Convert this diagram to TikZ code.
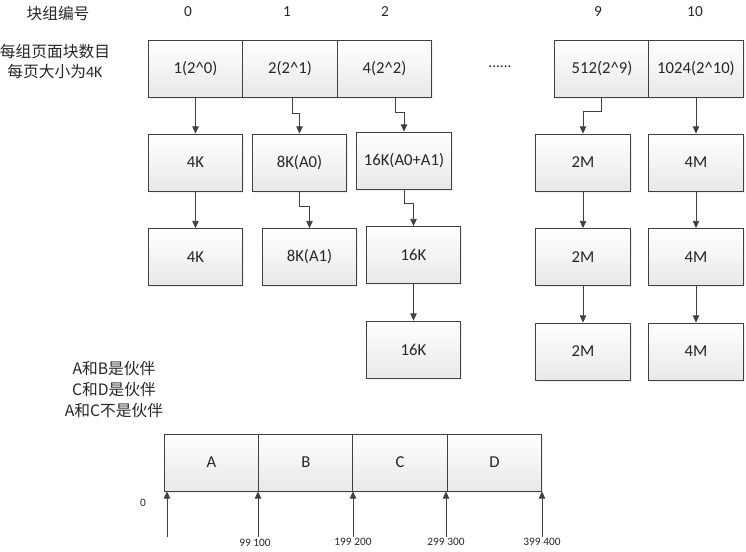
\documentclass[tikz,border=0pt]{standalone}
\usepackage{fontspec}
\setmainfont{Carlito}
\newfontfamily\cjkfont{Noto Sans CJK SC}
\newcommand\zh[1]{{\cjkfont #1}}
\usetikzlibrary{arrows.meta,calc,shadows}
\definecolor{linec}{RGB}{64,64,64}
\definecolor{boxbot}{RGB}{232,232,232}
\begin{document}
\begin{tikzpicture}[x=0.75pt,y=-0.75pt,
  box/.style={draw=linec, line width=0.6pt, top color=white, bottom color=boxbot,
    minimum width=70.9pt, minimum height=42.75pt, inner sep=0pt, font=\fontsize{12.5}{14}\selectfont,
    text=black!85,
    drop shadow={opacity=0.12, shadow xshift=1.2pt, shadow yshift=-1.2pt}},
  bbox/.style={box, minimum width=70.9pt},
  arr/.style={draw=linec, line width=0.6pt, -{Triangle[width=4.8pt,length=5.4pt]}},
  hdr/.style={font=\fontsize{11.5}{13}\selectfont, text=black!85},
  zht/.style={font=\fontsize{11.8}{14}\selectfont\cjkfont, text=black!85},
  small/.style={font=\fontsize{8.5}{9}\selectfont, inner sep=0pt, text=black!85}]
\useasboundingbox (0,0) rectangle (746,551);
% headers
\node[zht] (h0) at (58,13) {块组编号};
\node[hdr] (n0) at (188,12) {0};
\node[hdr] (n1) at (287,12) {1};
\node[hdr] (n2) at (385,12) {2};
\node[hdr] (n9) at (598,12) {9};
\node[hdr] (n10) at (695,12) {10};
\node[zht, align=center, inner sep=0pt] (lbl) at (55,61) {每组页面块数目\\[1pt]每页大小为\hbox{\fontsize{12}{13}\selectfont\rmfamily 4K}};
\node[hdr] (dots) at (500,67) {......};
% top row
\node[box] (t0) at (195.5,68.5) {1(2\^{}0)};
\node[box] (t1) at (290,68.5) {2(2\^{}1)};
\node[box] (t2) at (384.5,68.5) {4(2\^{}2)};
\node[box] (t9) at (602,68.5) {512(2\^{}9)};
\node[box] (t10) at (696,68.5) {1024(2\^{}10)};
% row 2
\node[box] (a0) at (195.5,162.5) {4K};
\node[box] (a1) at (299.5,162.5) {8K(A0)};
\node[box] (a2) at (404,160.5) {16K(A0+A1)};
\node[box] (a9) at (583,162.5) {2M};
\node[box] (a10) at (696,162.5) {4M};
% row 3
\node[box] (b0) at (195.5,257) {4K};
\node[box] (b1) at (309.5,257) {8K(A1)};
\node[box] (b2) at (413.5,255) {16K};
\node[box] (b9) at (583,257) {2M};
\node[box] (b10) at (696,257) {4M};
% row 4
\node[box] (c2) at (413.5,349.5) {16K};
\node[box] (c9) at (583,351.5) {2M};
\node[box] (c10) at (696,351.5) {4M};
% connectors top -> row2
\draw[arr] (t0.south) -- (a0.north);
\draw[arr] ($(t1.south)+(2,0)$) -- ++(0,16) -| (a1.north);
\draw[arr] ($(t2.south)+(10.5,0)$) -- ++(0,15) -| (a2.north);
\draw[arr] ($(t9.south)+(-1,0)$) -- ++(0,14) -| (a9.north);
\draw[arr] (t10.south) -- (a10.north);
% row2 -> row3
\draw[arr] (a0.south) -- (b0.north);
\draw[arr] (a1.south) -- ++(0,15) -| (b1.north);
\draw[arr] (a2.south) -- ++(0,14) -| (b2.north);
\draw[arr] (a9.south) -- (b9.north);
\draw[arr] (a10.south) -- (b10.north);
% row3 -> row4
\draw[arr] (b2.south) -- (c2.north);
\draw[arr] (b9.south) -- (c9.north);
\draw[arr] (b10.south) -- (c10.north);
% buddy text
\node[zht, inner sep=0pt] (p1) at (114,369) {A和B是伙伴};
\node[zht, inner sep=0pt] (p2) at (114,390) {C和D是伙伴};
\node[zht, inner sep=0pt] (p3) at (114,411) {A和C不是伙伴};
% bottom boxes
\node[bbox] (bA) at (211.5,462.5) {A};
\node[bbox] (bB) at (306,462.5) {B};
\node[bbox] (bC) at (400,462.5) {C};
\node[bbox] (bD) at (494.5,462.5) {D};
% address arrows
\coordinate (q0) at (167,537);
\coordinate (q1) at (258,537);
\coordinate (q2) at (353,537);
\coordinate (q3) at (446,537);
\coordinate (q4) at (542,537);
\draw[arr] (q0) -- (q0 |- bA.south);
\draw[arr] (q1) -- (q1 |- bA.south);
\draw[arr] (q2) -- (q2 |- bB.south);
\draw[arr] (q3) -- (q3 |- bC.south);
\draw[arr] (q4) -- (q4 |- bD.south);
\node[small] (l0) at (143,503) {0};
\node[small] (l1) at (255,543) {99 100};
\node[small] (l2) at (353,542) {199 200};
\node[small] (l3) at (446,542) {299 300};
\node[small] (l4) at (542,542) {399 400};
\end{tikzpicture}
\end{document}
